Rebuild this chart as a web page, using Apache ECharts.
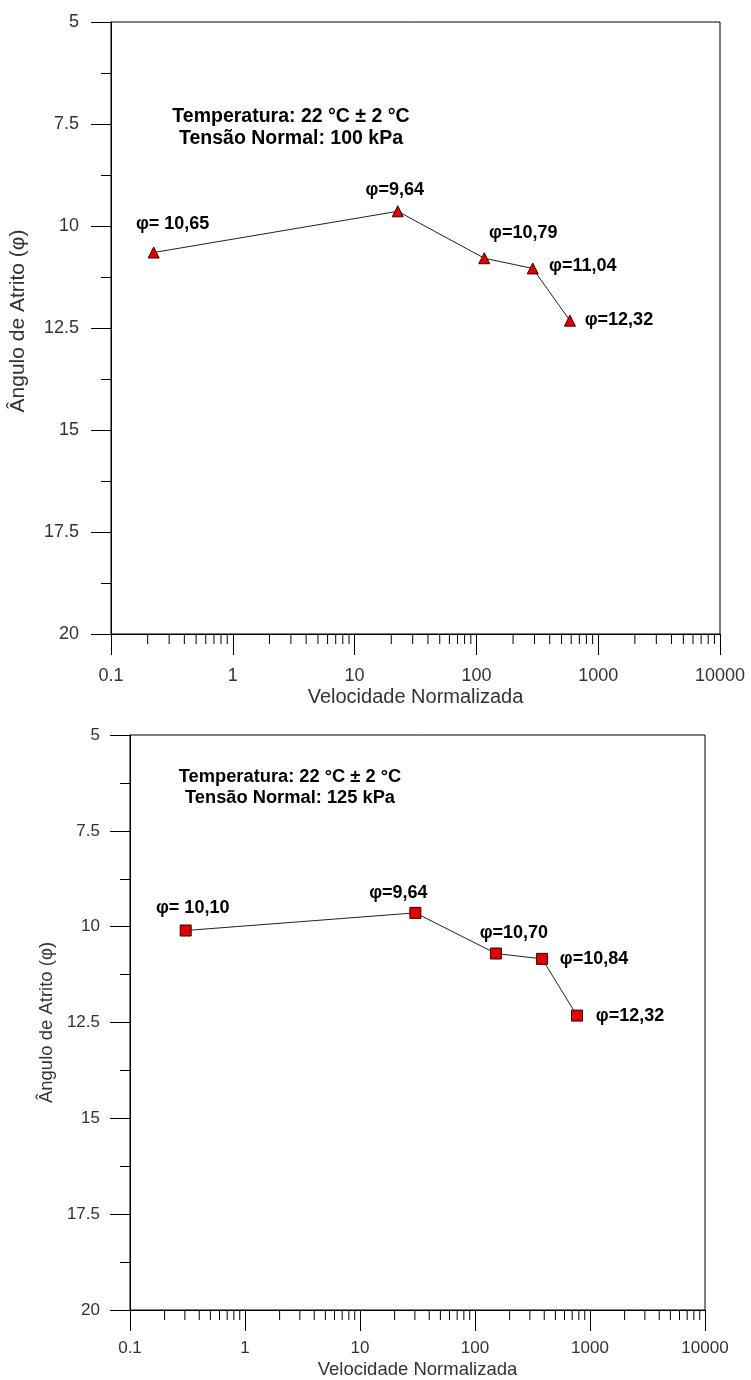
<!DOCTYPE html>
<html>
<head>
<meta charset="utf-8">
<script src="https://cdn.jsdelivr.net/npm/echarts@6/dist/echarts.min.js"></script>
<style>
html,body{margin:0;padding:0;background:#fff;}
#chart{width:751px;height:1380px;}
</style>
</head>
<body>
<div id="chart"></div>
<script>
// ---- data ----
const xTickLabels = ['0.1', '1', '10', '100', '1000', '10000'];
const yTickLabels = ['5', '7.5', '10', '12.5', '15', '17.5', '20'];

const topVelocity = [0.224, 22.6, 116, 290, 586];
const topPhi = [10.65, 9.64, 10.79, 11.04, 12.32];
const topLabels = ['φ= 10,65', 'φ=9,64', 'φ=10,79', 'φ=11,04', 'φ=12,32'];

const botVelocity = [0.305, 30.3, 152, 383, 771];
const botPhi = [10.10, 9.64, 10.70, 10.84, 12.32];
const botLabels = ['φ= 10,10', 'φ=9,64', 'φ=10,70', 'φ=10,84', 'φ=12,32'];

const topNote = ['Temperatura: 22 °C ± 2 °C', 'Tensão Normal: 100 kPa'];
const botNote = ['Temperatura: 22 °C ± 2 °C', 'Tensão Normal: 125 kPa'];

const xName = 'Velocidade Normalizada';
const yName = 'Ângulo de Atrito (φ)';

// minor log ticks: 2..9 within each decade
const minorMultipliers = [2, 3, 4, 5, 6, 7, 8, 9];
const decades = [0.1, 1, 10, 100, 1000];

// ---- layout (kept separate from data) ----
const topLabelOffsets = [[19, -28], [-3, -21], [39, -25], [50, -2], [49, -1]];
const botLabelOffsets = [[7, -22], [-17, -20], [18, -20], [52, 0], [53, 0]];

const FONT = '"Liberation Sans", Arial, sans-serif';
const minorTicks = [];
decades.forEach(d => minorMultipliers.forEach(m => minorTicks.push([d * m, 20])));

function xFmt(v) {
  const i = Math.round(Math.log10(v)) + 1;
  return xTickLabels[i] !== undefined ? xTickLabels[i] : '';
}
function yFmt(v) {
  const i = Math.round((v - 5) / 2.5);
  return yTickLabels[i] !== undefined ? yTickLabels[i] : '';
}

function makeX(gridIndex, labelMargin, nameGap, fs, nfs) {
  return {
    type: 'log', logBase: 10, gridIndex: gridIndex, min: 0.1, max: 10000,
    name: xName, nameLocation: 'middle', nameGap: nameGap,
    nameTextStyle: { fontFamily: FONT, fontSize: nfs, color: '#333' },
    axisLine: { show: true, lineStyle: { color: '#000', width: 1 } },
    axisTick: { show: true, length: 21, inside: false, lineStyle: { color: '#000', width: 1 } },
    axisLabel: { margin: labelMargin, fontFamily: FONT, fontSize: fs, color: '#333', formatter: xFmt },
    splitLine: { show: false },
    minorTick: { show: false }
  };
}
function makeY(gridIndex, labelMargin, nameGap, fs, nfs, namePad) {
  return {
    type: 'value', gridIndex: gridIndex, inverse: true, min: 5, max: 20, interval: 2.5,
    name: yName, nameLocation: 'middle', nameGap: nameGap, nameRotate: 90,
    nameTextStyle: { fontFamily: FONT, fontSize: nfs, color: '#333', padding: namePad },
    axisLine: { show: true, lineStyle: { color: '#000', width: 1 } },
    axisTick: { show: true, length: 20, inside: false, lineStyle: { color: '#000', width: 1 } },
    minorTick: { show: true, splitNumber: 2, length: 10, lineStyle: { color: '#000', width: 1 } },
    axisLabel: { margin: labelMargin, fontFamily: FONT, fontSize: fs, color: '#333', formatter: yFmt },
    splitLine: { show: false }
  };
}

function buildData(xs, ys, labels, offsets) {
  return xs.map((x, i) => ({
    value: [x, ys[i]],
    label: { formatter: labels[i], offset: offsets[i] }
  }));
}

function lineSeries(idx, xs, ys, labels, offsets, symbol, size) {
  return {
    type: 'line', xAxisIndex: idx, yAxisIndex: idx,
    data: buildData(xs, ys, labels, offsets),
    symbol: symbol, symbolSize: size, showAllSymbol: true,
    lineStyle: { color: '#222', width: 1 },
    itemStyle: { color: '#e30000', borderColor: '#3a0000', borderWidth: 1 },
    label: {
      show: true, position: 'inside', align: 'center', verticalAlign: 'middle',
      fontFamily: FONT, fontWeight: 'bold', fontSize: 18, color: '#000'
    },
    emphasis: { disabled: true },
    animation: false, z: 5
  };
}

function minorTickSeries(idx) {
  return {
    type: 'custom', xAxisIndex: idx, yAxisIndex: idx,
    data: minorTicks, silent: true, animation: false, clip: false,
    renderItem: function (params, api) {
      const p = api.coord([api.value(0), api.value(1)]);
      return {
        type: 'line',
        shape: { x1: p[0], y1: p[1], x2: p[0], y2: p[1] + 10 },
        style: { stroke: '#000', lineWidth: 1 }
      };
    }
  };
}

const chart = echarts.init(document.getElementById('chart'), null, { renderer: 'canvas' });
chart.setOption({
  backgroundColor: '#fff',
  animation: false,
  title: [
    {
      text: topNote.join('\n'), left: 286, top: 101, textAlign: 'center',
      textStyle: { fontFamily: FONT, fontWeight: 'bold', fontSize: 19.5, lineHeight: 21.5, color: '#000', align: 'center' }
    },
    {
      text: botNote.join('\n'), left: 285, top: 762, textAlign: 'center',
      textStyle: { fontFamily: FONT, fontWeight: 'bold', fontSize: 18.3, lineHeight: 20.5, color: '#000', align: 'center' }
    }
  ],
  grid: [
    { left: 110, top: 22, width: 610, height: 612, show: true, borderColor: '#000', borderWidth: 1, backgroundColor: 'transparent' },
    { left: 130, top: 735, width: 575, height: 575, show: true, borderColor: '#000', borderWidth: 1, backgroundColor: 'transparent' }
  ],
  xAxis: [makeX(0, 33, 53, 18, 20), makeX(1, 30, 50, 17, 18.5)],
  yAxis: [makeY(0, 32, 82, 18, 21, [0, 0, 0, 14]), makeY(1, 30, 70, 17, 18.5, [0, 0, 0, 0])],
  series: [
    lineSeries(0, topVelocity, topPhi, topLabels, topLabelOffsets, 'triangle', 11),
    lineSeries(1, botVelocity, botPhi, botLabels, botLabelOffsets, 'rect', 11),
    minorTickSeries(0),
    minorTickSeries(1)
  ]
});
</script>
</body>
</html>
